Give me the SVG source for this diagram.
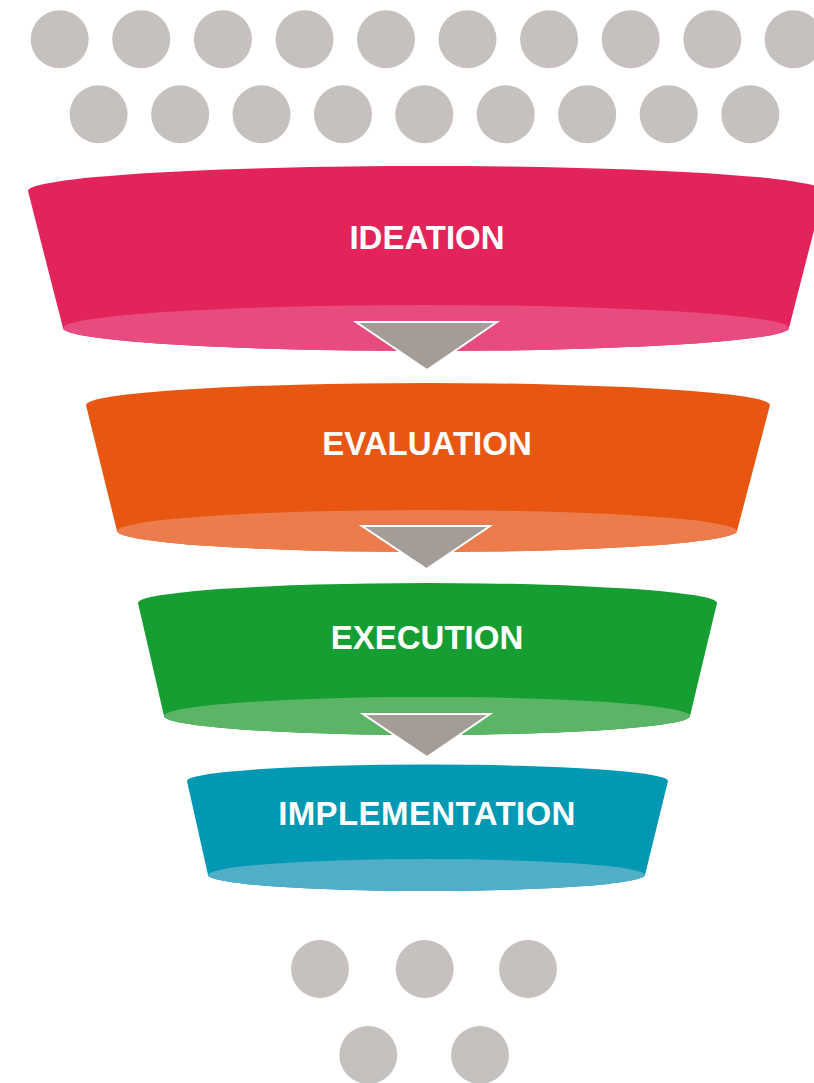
<svg xmlns="http://www.w3.org/2000/svg" width="814" height="1083" viewBox="0 0 814 1083">
  <style>
    .dot { fill: #c6c1be; }
    .label { font-family: "Liberation Sans", Arial, sans-serif; font-weight: bold; font-size: 33px; fill: #ffffff; text-anchor: middle; }
    .arrow { fill: #a49c97; stroke: #ffffff; stroke-width: 2; stroke-linejoin: miter; }
  </style>

  <!-- input dots above the funnel -->
  <g id="dots-top">
    <circle class="dot" cx="59.7" cy="39.3" r="29"/>
    <circle class="dot" cx="141.2" cy="39.3" r="29"/>
    <circle class="dot" cx="222.9" cy="39.3" r="29"/>
    <circle class="dot" cx="304.5" cy="39.3" r="29"/>
    <circle class="dot" cx="386" cy="39.3" r="29"/>
    <circle class="dot" cx="467.5" cy="39.3" r="29"/>
    <circle class="dot" cx="549.1" cy="39.3" r="29"/>
    <circle class="dot" cx="630.7" cy="39.3" r="29"/>
    <circle class="dot" cx="712.3" cy="39.3" r="29"/>
    <circle class="dot" cx="793.6" cy="39.3" r="29"/>
    <circle class="dot" cx="98.6" cy="114.3" r="29"/>
    <circle class="dot" cx="180.2" cy="114.3" r="29"/>
    <circle class="dot" cx="261.5" cy="114.3" r="29"/>
    <circle class="dot" cx="343" cy="114.3" r="29"/>
    <circle class="dot" cx="424.3" cy="114.3" r="29"/>
    <circle class="dot" cx="505.7" cy="114.3" r="29"/>
    <circle class="dot" cx="587.2" cy="114.3" r="29"/>
    <circle class="dot" cx="668.7" cy="114.3" r="29"/>
    <circle class="dot" cx="750.3" cy="114.3" r="29"/>
  </g>

  <!-- funnel stages -->
  <g id="ideation">
    <path d="M28,191 A398,25 0 0 1 824,191 L789,328 A363,23 0 0 1 63,328 Z" fill="#e2245a"/>
    <ellipse cx="426" cy="328" rx="363" ry="23" fill="#e84c7f"/>
    <text class="label" x="427" y="249">IDEATION</text>
  </g>

  <g id="evaluation">
    <path d="M86,405 A342,22 0 0 1 770,405 L737,531 A310,21 0 0 1 117,531 Z" fill="#e75712"/>
    <ellipse cx="427" cy="531" rx="310" ry="21" fill="#ed7c4c"/>
    <text class="label" x="427" y="455">EVALUATION</text>
  </g>

  <g id="execution">
    <path d="M138,603 A289.5,20 0 0 1 717,603 L690,716 A263,19 0 0 1 164,716 Z" fill="#169e33"/>
    <ellipse cx="427" cy="716" rx="263" ry="19" fill="#5cb567"/>
    <text class="label" x="427" y="649">EXECUTION</text>
  </g>

  <g id="implementation">
    <path d="M187,781 A240.5,16.5 0 0 1 668,781 L645,875 A218.5,16 0 0 1 208,875 Z" fill="#0098b3"/>
    <ellipse cx="426.5" cy="875" rx="218.5" ry="16" fill="#50aec6"/>
    <text class="label" x="427" y="825" letter-spacing="0.4">IMPLEMENTATION</text>
  </g>

  <!-- connectors between stages -->
  <g id="connectors">
    <polygon class="arrow" points="356,322 497,322 427,370"/>
    <polygon class="arrow" points="362,526 490,526 426.5,569"/>
    <polygon class="arrow" points="363,714 490,714 427,757"/>
  </g>

  <!-- output dots below the funnel -->
  <g id="dots-bottom">
    <circle class="dot" cx="320" cy="969" r="29"/>
    <circle class="dot" cx="424.7" cy="969" r="29"/>
    <circle class="dot" cx="528" cy="969" r="29"/>
    <circle class="dot" cx="368.3" cy="1055" r="29"/>
    <circle class="dot" cx="480" cy="1055" r="29"/>
  </g>
</svg>
